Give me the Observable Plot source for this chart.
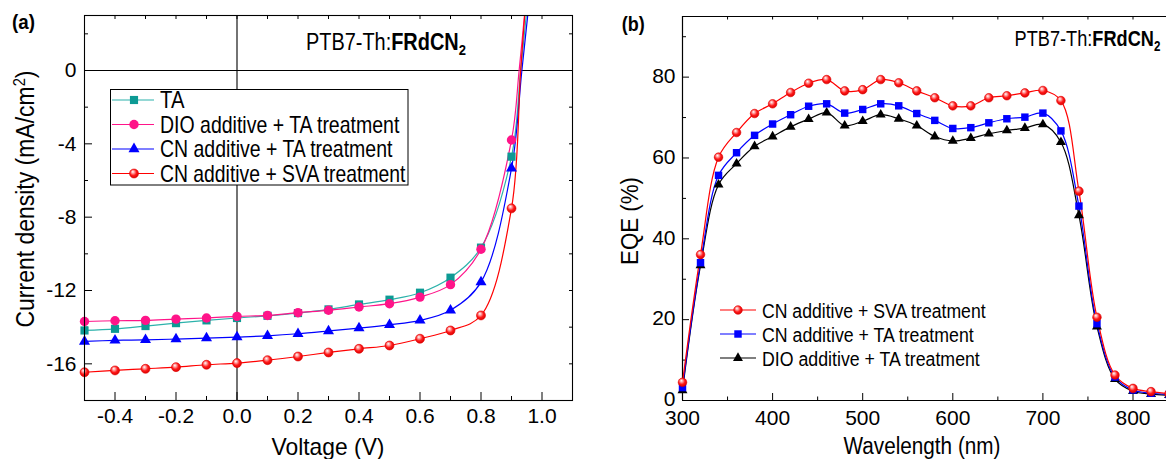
<!DOCTYPE html>
<html><head><meta charset="utf-8">
<script src="https://cdn.jsdelivr.net/npm/d3@7"></script>
<script src="https://cdn.jsdelivr.net/npm/@observablehq/plot@0.6"></script>
<style>
html,body{margin:0;padding:0;background:#fff;overflow:hidden;}
#wrap{position:relative;width:1166px;height:459px;overflow:hidden;}
#wrap svg{position:absolute;top:0;}
</style></head>
<body><div id="wrap"></div>
<script>
const FONT = "'Liberation Sans', Arial, Helvetica, sans-serif";

// ---------- Panel (a): J-V data ----------
const voltage = [-0.5,-0.4,-0.3,-0.2,-0.1,0.0,0.1,0.2,0.3,0.4,0.5,0.6,0.7,0.8,0.9];
const jTA    = [-14.18,-14.09,-13.94,-13.78,-13.63,-13.50,-13.38,-13.23,-13.03,-12.76,-12.50,-12.12,-11.30,-9.66,-4.70];
const jDIO   = [-13.69,-13.65,-13.63,-13.56,-13.50,-13.41,-13.36,-13.21,-13.08,-12.90,-12.72,-12.36,-11.68,-9.75,-3.79];
const jCNTA  = [-14.78,-14.72,-14.69,-14.65,-14.60,-14.54,-14.47,-14.36,-14.21,-14.05,-13.87,-13.63,-13.08,-11.54,-5.34];
const jCNSVA = [-16.46,-16.36,-16.27,-16.18,-16.05,-15.96,-15.80,-15.60,-15.38,-15.18,-15.00,-14.63,-14.18,-13.36,-7.52];
// curve continuation past the last marker (read near Voc)
const tailVTA = [0.93, 0.952],  tailJTA = [0.0, 3.6];
const tailVDIO = [0.925, 0.946], tailJDIO = [0.0, 3.6];
const tailVCNTA = [0.934, 0.957], tailJCNTA = [0.0, 3.6];
const tailVCNSVA = [0.93, 0.946], tailJCNSVA = [0.0, 3.6];
const seriesA = ["TA", "DIO additive + TA treatment", "CN additive + TA treatment", "CN additive + SVA treatment"];

const xLabelsA = [-0.4,-0.2,0.0,0.2,0.4,0.6,0.8,1.0];
const xMinorA = [-0.3,-0.1,0.1,0.3,0.5,0.7,0.9];
const xTopA = [-0.4,-0.3,-0.2,-0.1,0.0,0.1,0.2,0.3,0.4,0.5,0.6,0.7,0.8,0.9,1.0];
const yLabelsA = [0,-4,-8,-12,-16];
const yMinorA = [2,-2,-6,-10,-14];
const yRightA = [2,0,-2,-4,-6,-8,-10,-12,-14,-16];

// ---------- Panel (b): EQE data ----------
const wavelength = [300,320,340,360,380,400,420,440,460,480,500,520,540,560,580,600,620,640,660,680,700,720,740,760,780,800,820,840];
const eqeCNSVA = [4.5,36.1,60.2,66.3,71.0,73.4,76.2,78.5,79.4,76.6,76.9,79.4,78.6,76.6,74.9,72.9,72.9,74.9,75.4,76.1,76.7,74.2,51.8,20.6,6.3,3.0,2.2,1.7];
const eqeCNTA  = [3.2,34.1,55.7,61.3,65.6,68.4,70.7,72.8,73.4,71.1,72.0,73.4,72.9,71.0,69.3,67.3,67.5,68.7,69.7,70.1,71.1,66.7,48.1,19.0,5.8,2.6,1.8,1.5];
const eqeDIOTA = [2.5,33.4,53.4,58.6,62.9,65.3,67.7,69.6,71.2,68.0,69.1,70.7,69.7,68.0,65.3,64.2,64.9,66.0,66.8,67.4,68.3,63.9,45.8,18.3,5.3,2.3,1.6,1.3];
const seriesB = ["CN additive + SVA treatment", "CN additive + TA treatment", "DIO additive + TA treatment"];

const xLabelsB = [300,400,500,600,700,800];
const xMinorB = [350,450,550,650,750];
const xTopB = [350,400,450,500,550,600,650,700,750,800];
const yLabelsB = [0,20,40,60,80];
const yMinorB = [10,30,50,70,90];

// ---------- styles ----------
const styleA = {
  "TA": {line: "#2cb2ab", fill: "#0d9a94", symbol: "square", r: 4.6},
  "DIO additive + TA treatment": {line: "#ff1489", fill: "#ff1489", symbol: "circle", r: 4.7},
  "CN additive + TA treatment": {line: "#0000ff", fill: "#0000ff", symbol: "triangle", r: 4.1},
  "CN additive + SVA treatment": {line: "#ff0000", fill: "url(#sphereA)", symbol: "circle", r: 4.5, stroke: "#e00000"}
};
const styleB = {
  "CN additive + SVA treatment": {line: "#ff0000", fill: "url(#sphereB)", symbol: "circle", r: 4.3, stroke: "#e00000"},
  "CN additive + TA treatment": {line: "#0000ff", fill: "#0000ff", symbol: "square", r: 4.2},
  "DIO additive + TA treatment": {line: "#000000", fill: "#000000", symbol: "triangle", r: 3.7}
};

const valsA = {"TA": jTA, "DIO additive + TA treatment": jDIO, "CN additive + TA treatment": jCNTA, "CN additive + SVA treatment": jCNSVA};
const tailsA = {"TA": [tailVTA, tailJTA], "DIO additive + TA treatment": [tailVDIO, tailJDIO], "CN additive + TA treatment": [tailVCNTA, tailJCNTA], "CN additive + SVA treatment": [tailVCNSVA, tailJCNSVA]};
const valsB = {"CN additive + SVA treatment": eqeCNSVA, "CN additive + TA treatment": eqeCNTA, "DIO additive + TA treatment": eqeDIOTA};

const markersA = s => voltage.map((v, i) => ({v, j: valsA[s][i]}));
const lineA = s => markersA(s).concat(tailsA[s][0].map((v, i) => ({v, j: tailsA[s][1][i]})));
const pointsB = s => wavelength.map((w, i) => ({w, e: valsB[s][i]}));

// ---------- Panel (a) plot ----------
const WA = 583, HA = 459, mLA = 84, mRA = 11, mTA = 15, mBA = 59;
const FWA = WA - mLA - mRA, FHA = HA - mTA - mBA;
const marksA = [
  Plot.ruleX([0], {stroke: "#000", strokeWidth: 1.1}),
  Plot.ruleY([0], {stroke: "#000", strokeWidth: 1.1}),
  Plot.tickX(xLabelsA, {x: d => d, insetTop: FHA - 8, stroke: "#000"}),
  Plot.tickX(xMinorA, {x: d => d, insetTop: FHA - 4, stroke: "#000"}),
  Plot.tickX(xTopA, {x: d => d, insetBottom: FHA - 4, stroke: "#000"}),
  Plot.tickY(yLabelsA, {y: d => d, insetRight: FWA - 8, stroke: "#000"}),
  Plot.tickY(yMinorA, {y: d => d, insetRight: FWA - 4, stroke: "#000"}),
  Plot.tickY(yRightA, {y: d => d, insetLeft: FWA - 3, stroke: "#000"}),
  Plot.axisX({ticks: xLabelsA, tickSize: 0, tickPadding: 8, tickFormat: d => d.toFixed(1), fontSize: 21, label: null}),
  Plot.axisY({ticks: yLabelsA, tickSize: 0, tickPadding: 8, tickFormat: d => String(d), fontSize: 21, label: null})
];
for (const s of seriesA) {
  const st = styleA[s];
  marksA.push(Plot.line(lineA(s), {x: "v", y: "j", stroke: st.line, strokeWidth: 1.2, curve: "catmull-rom", clip: true}));
}
for (const s of seriesA) {
  const st = styleA[s];
  marksA.push(Plot.dot(markersA(s), {x: "v", y: "j", symbol: st.symbol, r: st.r, fill: st.fill, stroke: st.stroke || "none", strokeWidth: 0.6}));
}
marksA.push(Plot.frame({stroke: "#000", strokeWidth: 1.1}));

const plotA = Plot.plot({
  width: WA, height: HA, marginLeft: mLA, marginRight: mRA, marginTop: mTA, marginBottom: mBA,
  x: {domain: [-0.5, 1.1]}, y: {domain: [-18, 3]},
  style: {background: "transparent", fontFamily: FONT, color: "#000", overflow: "visible"},
  marks: marksA
});

// ---------- Panel (b) plot ----------
const WB = 583, HB = 459, mLB = 99, mRB = 0, mTB = 16, mBB = 59;
const FWB = WB - mLB - mRB, FHB = HB - mTB - mBB;
const marksB = [
  Plot.ruleX([300], {stroke: "#000", strokeWidth: 1.2}),
  Plot.ruleY([0], {stroke: "#000", strokeWidth: 1.2}),
  Plot.ruleY([95], {stroke: "#000", strokeWidth: 1.2}),
  Plot.tickX(xLabelsB, {x: d => d, insetTop: FHB - 7, stroke: "#000"}),
  Plot.tickX(xMinorB, {x: d => d, insetTop: FHB - 3.5, stroke: "#000"}),
  Plot.tickX(xTopB, {x: d => d, insetBottom: FHB - 3.5, stroke: "#000"}),
  Plot.tickY(yLabelsB, {y: d => d, insetRight: FWB - 7, stroke: "#000"}),
  Plot.tickY(yMinorB, {y: d => d, insetRight: FWB - 4, stroke: "#000"}),
  Plot.axisX({ticks: xLabelsB, tickSize: 0, tickPadding: 10, tickFormat: d => String(d), fontSize: 21, label: null}),
  Plot.axisY({ticks: yLabelsB, tickSize: 0, tickPadding: 7, tickFormat: d => String(d), fontSize: 21, label: null, dy: -1})
];
for (const s of [...seriesB].reverse()) {
  const st = styleB[s];
  marksB.push(Plot.line(pointsB(s), {x: "w", y: "e", stroke: st.line, strokeWidth: 1.2, curve: "catmull-rom"}));
}
for (const s of [...seriesB].reverse()) {
  const st = styleB[s];
  marksB.push(Plot.dot(pointsB(s), {x: "w", y: "e", symbol: st.symbol, r: st.r, fill: st.fill, stroke: st.stroke || "none", strokeWidth: 0.6}));
}
const plotB = Plot.plot({
  width: WB, height: HB, marginLeft: mLB, marginRight: mRB, marginTop: mTB, marginBottom: mBB,
  x: {domain: [300, 300 + FWB / 0.901]}, y: {domain: [0, 95]},
  style: {background: "transparent", fontFamily: FONT, color: "#000", overflow: "visible"},
  marks: marksB
});

const wrap = document.getElementById("wrap");
plotA.style.left = "0px";
plotB.style.left = "583px";
wrap.appendChild(plotA);
wrap.appendChild(plotB);

function addDefs(svg, id) {
  const defs = document.createElementNS("http://www.w3.org/2000/svg", "defs");
  defs.innerHTML = `<radialGradient id="${id}" cx="0.45" cy="0.42" r="0.6" fx="0.36" fy="0.3">
    <stop offset="0" stop-color="#ffffff"/><stop offset="0.28" stop-color="#ff9a9a"/>
    <stop offset="0.6" stop-color="#ff1a1a"/><stop offset="1" stop-color="#d80000"/></radialGradient>`;
  svg.insertBefore(defs, svg.firstChild);
}
addDefs(plotA, "sphereA");
addDefs(plotB, "sphereB");

function addText(parent, {x, y, html, size, weight, anchor = "start", width, rotate = 0}) {
  const g = parent.append("g").attr("transform", `translate(${x},${y}) rotate(${rotate})`);
  const t = g.append("text").attr("font-size", size).attr("font-family", FONT)
    .attr("text-anchor", anchor).attr("fill", "#000");
  if (weight) t.attr("font-weight", weight);
  t.html(html);
  if (width) {
    const w = t.node().getBBox().width;
    if (w > 0) t.attr("transform", `scale(${width / w},1)`);
  }
  return t;
}
function legendSymbol(g, x, y, st) {
  const type = st.symbol === "square" ? d3.symbolSquare : st.symbol === "triangle" ? d3.symbolTriangle : d3.symbolCircle;
  g.append("path").attr("transform", `translate(${x},${y})`)
    .attr("d", d3.symbol(type, Math.PI * st.r * st.r)())
    .attr("fill", st.fill).attr("stroke", st.stroke || "none").attr("stroke-width", 0.6);
}

// ----- panel (a) annotations -----
const sa = d3.select(plotA);
addText(sa, {x: 12, y: 29, html: "(a)", size: 20, weight: "bold", width: 23});
addText(sa, {x: 306, y: 50, html: 'PTB7-Th:<tspan font-weight="bold">FRdCN<tspan dy="5" font-size="15">2</tspan></tspan>', size: 23, width: 160});
addText(sa, {x: 34, y: 199, rotate: -90, anchor: "middle", size: 25, width: 257,
  html: 'Current density (mA/cm<tspan dy="-9" font-size="16">2</tspan><tspan dy="9">)</tspan>'});
addText(sa, {x: 328, y: 455, anchor: "middle", size: 23, width: 113, html: "Voltage (V)"});

const legA = sa.append("g");
legA.append("rect").attr("x", 110.5).attr("y", 89.5).attr("width", 297.5).attr("height", 95.5)
  .attr("fill", "#fff").attr("stroke", "#000").attr("stroke-width", 1);
const legAy = [100, 124.5, 149, 173.5];
const legAw = [25, 240, 233, 246];
seriesA.forEach((s, i) => {
  const st = styleA[s], y = legAy[i];
  legA.append("line").attr("x1", 112).attr("x2", 154).attr("y1", y).attr("y2", y).attr("stroke", st.line).attr("stroke-width", 1.2);
  legendSymbol(legA, 134, y, st);
  addText(legA, {x: 160, y: y + 8, html: s, size: 23, width: legAw[i]});
});

// ----- panel (b) annotations -----
const sb = d3.select(plotB);
const ox = 583;
addText(sb, {x: 621.7 - ox, y: 31, html: "(b)", size: 20, weight: "bold", width: 23});
addText(sb, {x: 1014.6 - ox, y: 46, html: 'PTB7-Th:<tspan font-weight="bold">FRdCN<tspan dy="5" font-size="14">2</tspan></tspan>', size: 22, width: 146});
addText(sb, {x: 638 - ox, y: 221, rotate: -90, anchor: "middle", size: 24, width: 88, html: "EQE (%)"});
addText(sb, {x: 922 - ox, y: 454, anchor: "middle", size: 23, width: 157, html: "Wavelength (nm)"});

const legB = sb.append("g");
const legBy = [310, 334, 358];
const legBw = [224, 212, 218];
seriesB.forEach((s, i) => {
  const st = styleB[s], y = legBy[i];
  legB.append("line").attr("x1", 720 - ox).attr("x2", 756 - ox).attr("y1", y).attr("y2", y).attr("stroke", st.line).attr("stroke-width", 1.2);
  legendSymbol(legB, 738 - ox, y, st);
  addText(legB, {x: 762 - ox, y: y + 7.5, html: s, size: 21, width: legBw[i]});
});
</script>
</body></html>
